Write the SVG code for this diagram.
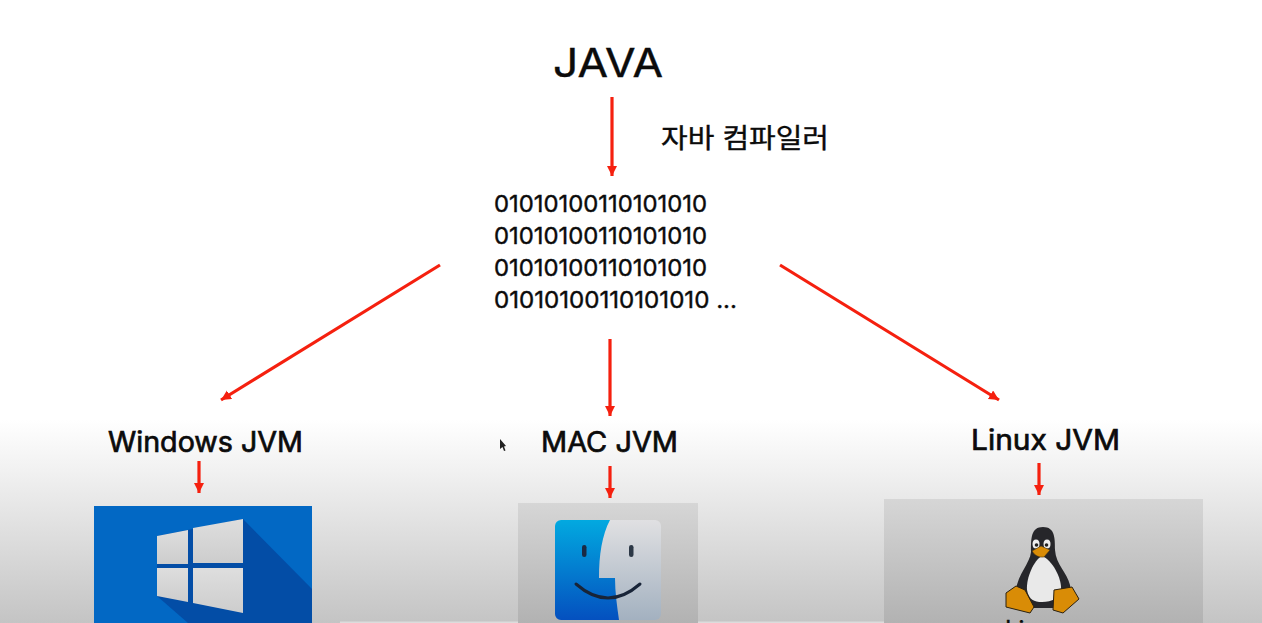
<svg xmlns="http://www.w3.org/2000/svg" width="1262" height="623" viewBox="0 0 1262 623">
<style>
.t{font-family:"Inter","Noto Sans CJK KR",sans-serif;fill:#0b0b0b;stroke:#0b0b0b;stroke-width:.4px}
.l{font-size:28px;font-weight:400;stroke-width:.7px}
.b{font-size:23.500px;font-weight:400}
.c{stroke:#f5200f;stroke-width:3.200px;fill:none;marker-end:url(#a)}
</style>
<defs>
<marker id="a" markerUnits="userSpaceOnUse" markerWidth="12" markerHeight="12" refX="10" refY="5" orient="auto"><path d="M0 0L10 5L0 10Z" fill="#f5200f"/></marker>
<linearGradient id="bg" x1="0" y1="0" x2="0" y2="1"><stop offset="0" stop-color="#fff"/><stop offset=".25" stop-color="#f1f1f1"/><stop offset="1" stop-color="#c4c4c4"/></linearGradient>
<linearGradient id="p" x1="0" y1="0" x2="0" y2="1"><stop offset="0" stop-color="#d6d6d6"/><stop offset="1" stop-color="#b2b2b2"/></linearGradient>
<linearGradient id="fb" x1="0" y1="0" x2="0" y2="1"><stop offset="0" stop-color="#02a9e0"/><stop offset="1" stop-color="#0450bf"/></linearGradient>
<linearGradient id="fg" x1="0" y1="0" x2="0" y2="1"><stop offset="0" stop-color="#e0e0e2"/><stop offset="1" stop-color="#a3b1c0"/></linearGradient>
<linearGradient id="wp" x1="0" y1="0" x2="0" y2="1"><stop offset="0" stop-color="#dedede"/><stop offset="1" stop-color="#cdcdcd"/></linearGradient>
</defs>
<rect width="1262" height="623" fill="#fff"/>
<rect y="420" width="1262" height="203" fill="url(#bg)"/>
<rect x="340" y="621.500" width="545" height="1.500" fill="#dcdcdc"/>
<g id="java"><text class="t" x="553" y="77" font-size="39" textLength="110" lengthAdjust="spacingAndGlyphs">JAVA</text></g>
<g id="compiler"><text class="t" x="661" y="148" font-size="27" textLength="168" lengthAdjust="spacingAndGlyphs">자바 컴파일러</text></g>
<g id="bytecode" class="b">
<text class="t" x="494" y="212" textLength="213" lengthAdjust="spacingAndGlyphs">01010100110101010</text>
<text class="t" x="494" y="244" textLength="213" lengthAdjust="spacingAndGlyphs">01010100110101010</text>
<text class="t" x="494" y="276" textLength="213" lengthAdjust="spacingAndGlyphs">01010100110101010</text>
<text class="t" x="494" y="308" textLength="243" lengthAdjust="spacingAndGlyphs">01010100110101010 ...</text>
</g>
<g id="connectors">
<path class="c" d="M612 97V176"/>
<path class="c" d="M440 265L221 400"/>
<path class="c" d="M610 339V416"/>
<path class="c" d="M780 265L999 400"/>
<path class="c" d="M199 461V493"/>
<path class="c" d="M610 466V498"/>
<path class="c" d="M1039 463V495"/>
</g>
<g id="windows-jvm"><text class="t l" x="108" y="452" textLength="195" lengthAdjust="spacingAndGlyphs">Windows JVM</text></g>
<g id="mac-jvm"><text class="t l" x="541" y="452" textLength="137" lengthAdjust="spacingAndGlyphs">MAC JVM</text></g>
<g id="linux-jvm"><text class="t l" x="971" y="450" textLength="149" lengthAdjust="spacingAndGlyphs">Linux JVM</text></g>
<g id="windows-logo">
<rect x="94" y="506" width="218" height="117" fill="#0268c4"/>
<path d="M157 536L243 519L312 589V623H188L157 596Z" fill="#034da6"/>
<g fill="url(#wp)">
<path d="M157 536L188 530V564H157Z"/>
<path d="M193 528L243 519V563H193Z"/>
<path d="M157 568H188V602L157 596Z"/>
<path d="M193 568H243V613L193 603Z"/>
</g>
</g>
<g id="mac-logo">
<rect x="518" y="503" width="180" height="120" fill="url(#p)"/>
<rect x="555" y="520" width="106" height="100" rx="6" fill="url(#fg)"/>
<path d="M610 520H561a6 6 0 0 0-6 6V614a6 6 0 0 0 6 6H619C617 606 615 592 615 578H599C599 555 602 535 610 520Z" fill="url(#fb)"/>
<rect x="582" y="545" width="4.500" height="12" rx="2.200" fill="#1a2a44"/>
<rect x="629" y="545" width="4.500" height="12" rx="2.200" fill="#2c3846"/>
<path d="M576 584Q608 612 640 584" fill="none" stroke="#182438" stroke-width="3" stroke-linecap="round"/>
</g>
<g id="linux-logo">
<rect x="884" y="499" width="319" height="124" fill="url(#p)"/>
<path d="M1043 527C1031 527 1031 538 1031 552C1030 563 1018 574 1016 590C1016 600 1024 608 1034 608H1060C1070 606 1072 596 1070 585C1067 572 1056 565 1055 550C1055 538 1055 527 1043 527Z" fill="#26262a"/>
<path d="M1042 556C1034 560 1026 578 1027 590C1029 600 1034 602 1042 602C1052 602 1060 598 1061 590C1062 578 1052 560 1042 556Z" fill="#e9e9e9"/>
<ellipse cx="1036" cy="544" rx="3.500" ry="4.500" fill="#eee"/><ellipse cx="1047" cy="544" rx="3.500" ry="4.500" fill="#eee"/>
<circle cx="1036.500" cy="545" r="1.800" fill="#222"/><circle cx="1046.500" cy="545" r="1.800" fill="#222"/>
<path d="M1032 551L1041 546L1050 550L1044 557Q1036 558 1032 551Z" fill="#d98c06" stroke="#3a2c10" stroke-width=".5"/>
<path d="M1016 586L1006 593L1006 607L1030 613L1034 607L1025 590Z" fill="#d98c06" stroke="#2a2010" stroke-width="1" stroke-linejoin="round"/>
<path d="M1054 590L1072 587L1079 599L1063 613L1053 610Z" fill="#d98c06" stroke="#2a2010" stroke-width="1" stroke-linejoin="round"/>
<text class="t" x="1005" y="638" font-size="24">Linux</text>
</g>
<g id="cursor"><path d="M500 439V449L502.500 447L504 451L505.500 450.500L504 446.500L506 446Z" fill="#222"/></g>
</svg>
